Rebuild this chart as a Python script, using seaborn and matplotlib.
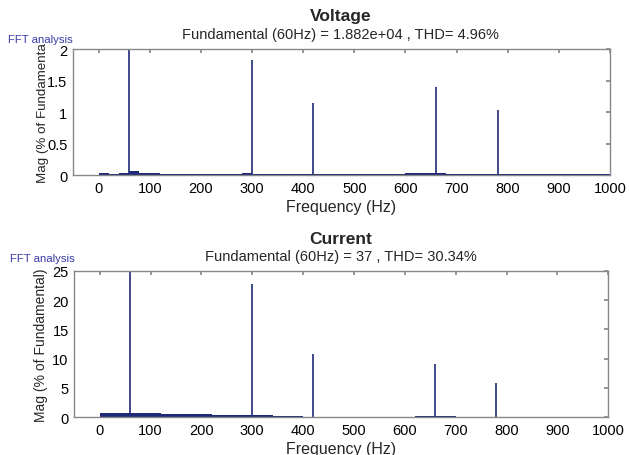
import matplotlib
matplotlib.use("Agg")
import matplotlib.pyplot as plt
import seaborn as sns
import numpy as np
import pandas as pd

# ---------------- data ----------------
floor_freq = list(range(0, 1000, 20))  # bin left edges (Hz)

v_harm_freq = [60, 300, 420, 660, 780]
v_harm_mag = [100.0, 1.82, 1.15, 1.40, 1.03]
v_floor = [0.03, 0.02, 0.03, 0.06, 0.03, 0.03, 0.02, 0.02, 0.02, 0.02,
           0.02, 0.02, 0.02, 0.02, 0.03, 0.02, 0.02, 0.02, 0.02, 0.02,
           0.02, 0.02, 0.02, 0.02, 0.02, 0.02, 0.02, 0.02, 0.02, 0.02,
           0.03, 0.03, 0.03, 0.03, 0.02, 0.02, 0.02, 0.02, 0.02, 0.02,
           0.02, 0.02, 0.02, 0.02, 0.02, 0.02, 0.02, 0.02, 0.02, 0.02]

c_harm_freq = [60, 300, 420, 660, 780]
c_harm_mag = [100.0, 22.7, 10.8, 9.0, 5.9]
c_floor = [0.70, 0.75, 0.70, 0.70, 0.65, 0.65, 0.60, 0.55, 0.55, 0.50,
           0.50, 0.45, 0.42, 0.40, 0.35, 0.33, 0.30, 0.25, 0.20, 0.12,
           0.08, 0.06, 0.05, 0.05, 0.05, 0.05, 0.05, 0.05, 0.06, 0.08,
           0.10, 0.12, 0.15, 0.15, 0.12, 0.10, 0.08, 0.06, 0.05, 0.05,
           0.05, 0.05, 0.05, 0.05, 0.05, 0.05, 0.05, 0.05, 0.05, 0.05]

x_ticks = [0, 100, 200, 300, 400, 500, 600, 700, 800, 900, 1000]
v_yticks = [0, 0.5, 1, 1.5, 2]
c_yticks = [0, 5, 10, 15, 20, 25]

titles = ["Voltage", "Current"]
subtitles = ["Fundamental (60Hz) = 1.882e+04 , THD= 4.96%",
             "Fundamental (60Hz) = 37 , THD= 30.34%"]
ylabels = ["Mag (% of Fundamenta", "Mag (% of Fundamental)"]

# ---------------- style ----------------
sns.set_theme(style="white")
plt.rcParams['font.family'] = ['Liberation Sans', 'DejaVu Sans']
plt.rcParams.update({
    "xtick.direction": "in", "ytick.direction": "in",
    "xtick.top": True, "ytick.right": True,
    "xtick.major.size": 3, "ytick.major.size": 3,
    "axes.edgecolor": "#888888", "axes.linewidth": 1.0,
    "xtick.color": "#888888", "ytick.color": "#888888",
    "xtick.labelcolor": "black", "ytick.labelcolor": "black",
})

col = "#1f2a78"
fig = plt.figure(figsize=(6.29, 4.56), dpi=100)
ax1 = fig.add_axes([0.116, 0.614, 0.854, 0.276])
ax2 = fig.add_axes([0.118, 0.083, 0.849, 0.321])

datasets = [
    (ax1, v_harm_freq, v_harm_mag, v_floor, v_yticks, 2, 9.6, -0.045),
    (ax2, c_harm_freq, c_harm_mag, c_floor, c_yticks, 25, 10, -0.049),
]

for i, (ax, hf, hm, fl, yt, ytop, yfs, ylx) in enumerate(datasets):
    df_floor = pd.DataFrame({"f": floor_freq, "m": fl})
    ax.bar(df_floor["f"], df_floor["m"], width=20, align="edge",
           color=col, edgecolor=col, linewidth=0)
    df_h = pd.DataFrame({"f": hf, "m": hm})
    ax.vlines(df_h["f"], 0, df_h["m"], color=col, linewidth=1.2)
    ax.set_xlim(-50, 1000)
    ax.set_ylim(0, ytop)
    ax.set_xticks(x_ticks)
    ax.set_yticks(yt)
    ax.set_yticklabels([f"{v:g}" for v in yt])
    ax.tick_params(labelsize=10.5, pad=4)
    ax.set_xlabel("Frequency (Hz)", fontsize=11.5, labelpad=3)
    ax.set_ylabel(ylabels[i], fontsize=yfs)
    ax.yaxis.set_label_coords(ylx, 0.5)
    for s in ax.spines.values():
        s.set_visible(True)

fig.text(0.542, 1 - 17 / 456, titles[0], ha="center", va="center",
         fontsize=12.5, fontweight="bold")
fig.text(0.542, 1 - 35 / 456, subtitles[0], ha="center", va="center",
         fontsize=10.5)
fig.text(8 / 629, 1 - 40 / 456, "FFT analysis", ha="left", va="center",
         fontsize=8.2, color="#3a3aa8")

fig.text(0.542, 1 - 240 / 456, titles[1], ha="center", va="center",
         fontsize=12.5, fontweight="bold")
fig.text(0.542, 1 - 257 / 456, subtitles[1], ha="center", va="center",
         fontsize=10.5)
fig.text(10 / 629, 1 - 259 / 456, "FFT analysis", ha="left", va="center",
         fontsize=8.2, color="#3a3aa8")

fig.savefig("out.png", dpi=100)
